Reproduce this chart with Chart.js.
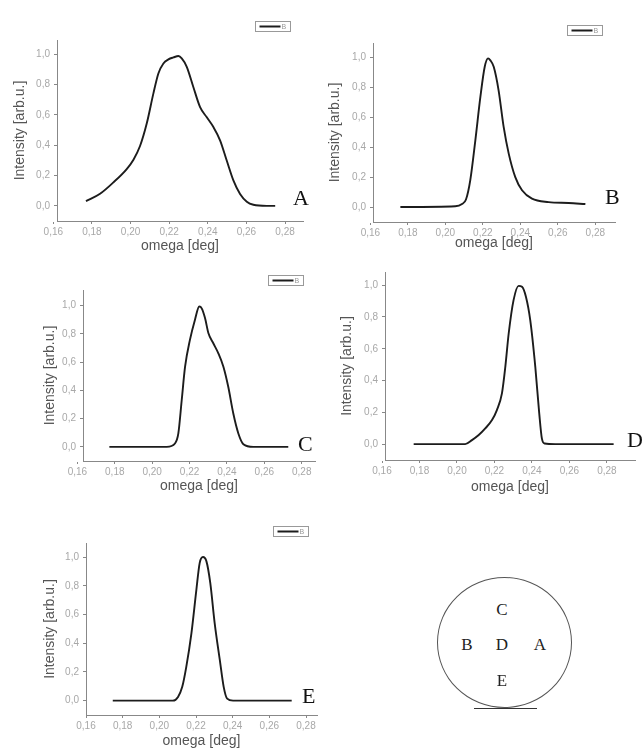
<!DOCTYPE html>
<html>
<head>
<meta charset="utf-8">
<script src="https://cdn.jsdelivr.net/npm/chart.js@4.4.1/dist/chart.umd.min.js"></script>
<style>
  body { margin: 0; background: #fff; overflow: hidden; }
  #fig { position: relative; width: 644px; height: 748px; }
  .panel { position: absolute; }
  .tag { position: absolute; font-family: "Liberation Serif", "DejaVu Serif", serif; font-size: 22px; line-height: 22px; color: #111; }
  #wafer { position: absolute; left: 437px; top: 577px; width: 133px; height: 129px; border: 1px solid #555; border-radius: 50%; }
  .spot { position: absolute; font-family: "Liberation Serif", "DejaVu Serif", serif; font-size: 17px; line-height: 17px; color: #222; transform: translate(-50%, -50%); }
  #flat { position: absolute; left: 474px; top: 708px; width: 63px; border-top: 1.5px solid #333; }
</style>
</head>
<body>
<div id="fig"></div>
<script>
// rocking curves, normalised intensity vs omega
const omegaA = [0.1769, 0.1842, 0.1911, 0.1980, 0.2015, 0.2049, 0.2084, 0.2118, 0.2144, 0.2170, 0.2196, 0.2222, 0.2248, 0.2265, 0.2291, 0.2325, 0.2360, 0.2394, 0.2429, 0.2464, 0.2498, 0.2533, 0.2567, 0.2602, 0.2636, 0.2705, 0.2749];
const intA   = [0.031, 0.080, 0.155, 0.243, 0.305, 0.395, 0.545, 0.741, 0.874, 0.940, 0.967, 0.980, 0.989, 0.973, 0.918, 0.785, 0.652, 0.586, 0.520, 0.431, 0.299, 0.166, 0.078, 0.027, 0.007, 0, 0];

const omegaB = [0.1760, 0.2053, 0.2089, 0.2110, 0.2133, 0.2160, 0.2187, 0.2210, 0.2228, 0.2240, 0.2258, 0.2284, 0.2311, 0.2338, 0.2373, 0.2409, 0.2462, 0.2551, 0.2658, 0.2747];
const intB   = [0, 0.005, 0.020, 0.050, 0.180, 0.446, 0.737, 0.937, 0.993, 0.980, 0.937, 0.780, 0.535, 0.357, 0.200, 0.112, 0.056, 0.033, 0.027, 0.020];

const omegaC = [0.1771, 0.2078, 0.2122, 0.2140, 0.2158, 0.2176, 0.2202, 0.2229, 0.2252, 0.2265, 0.2283, 0.2301, 0.2327, 0.2354, 0.2381, 0.2407, 0.2434, 0.2461, 0.2488, 0.2541, 0.2728];
const intC   = [0, 0, 0.024, 0.095, 0.330, 0.567, 0.757, 0.900, 0.993, 0.980, 0.910, 0.804, 0.733, 0.662, 0.567, 0.425, 0.236, 0.095, 0.019, 0, 0];

const omegaD = [0.1769, 0.2044, 0.2080, 0.2116, 0.2151, 0.2187, 0.2213, 0.2240, 0.2258, 0.2276, 0.2302, 0.2329, 0.2347, 0.2368, 0.2391, 0.2418, 0.2439, 0.2453, 0.2468, 0.2524, 0.2836];
const intD   = [0, 0, 0.025, 0.057, 0.099, 0.151, 0.214, 0.319, 0.486, 0.696, 0.906, 0.996, 0.990, 0.927, 0.780, 0.486, 0.193, 0.036, 0.004, 0, 0];

const omegaE = [0.1746, 0.2074, 0.2102, 0.2125, 0.2147, 0.2175, 0.2202, 0.2220, 0.2238, 0.2257, 0.2278, 0.2302, 0.2330, 0.2351, 0.2370, 0.2402, 0.2722];
const intE   = [0, 0, 0.026, 0.096, 0.235, 0.469, 0.772, 0.958, 1.000, 0.970, 0.818, 0.538, 0.282, 0.096, 0.014, 0, 0];

const omegaTicks = [0.16, 0.18, 0.20, 0.22, 0.24, 0.26, 0.28];
const intensityTicks = [0, 0.2, 0.4, 0.6, 0.8, 1.0];
const seriesName = 'B';

// plot boxes on the page (px) and axis ranges
const panels = [
  { tag: 'A', omega: omegaA, intensity: intA, plot: [57, 40, 303, 221], yTitleX: 20, xTitleY: 247, xRange: [0.1619, 0.2893], yRange: [-0.1, 1.095], legend: [13, 19], tagAt: [293, 205] },
  { tag: 'B', omega: omegaB, intensity: intB, plot: [373, 43, 615, 222], yTitleX: 335, xTitleY: 244, xRange: [0.1614, 0.2905], yRange: [-0.1, 1.096], legend: [13, 18], tagAt: [605, 204] },
  { tag: 'C', omega: omegaC, intensity: intC, plot: [83, 290, 315, 461], yTitleX: 50, xTitleY: 487, xRange: [0.1630, 0.2871], yRange: [-0.1, 1.11], legend: [12, 15], tagAt: [298, 451] },
  { tag: 'D', omega: omegaD, intensity: intD, plot: [385, 272, 635, 460], yTitleX: 347, xTitleY: 488, xRange: [0.1616, 0.2950], yRange: [-0.1, 1.083], legend: null, tagAt: [627, 447] },
  { tag: 'E', omega: omegaE, intensity: intE, plot: [86, 543, 317, 715], yTitleX: 50, xTitleY: 742, xRange: [0.1600, 0.2860], yRange: [-0.1, 1.098], legend: [9, 17], tagAt: [302, 703] }
];

Chart.defaults.font.family = '"Liberation Sans", Arial, sans-serif';

// small framed legend sitting just above the plot's top right corner
const legendBox = {
  id: 'legendBox',
  afterDraw(chart, args, opts) {
    if (!opts.offset) return;
    const { ctx, chartArea } = chart;
    const ds = chart.data.datasets[0];
    const w = 35, h = 10;
    const x = Math.round(chartArea.right - opts.offset[0] - w) + 0.5;
    const y = Math.round(chartArea.top - opts.offset[1]) + 0.5;
    ctx.save();
    ctx.strokeStyle = '#999';
    ctx.lineWidth = 1;
    ctx.strokeRect(x, y, w, h);
    ctx.strokeStyle = ds.borderColor;
    ctx.lineWidth = 2;
    ctx.beginPath();
    ctx.moveTo(x + 4, y + h / 2);
    ctx.lineTo(x + 25, y + h / 2);
    ctx.stroke();
    ctx.fillStyle = '#999';
    ctx.font = '7px "Liberation Sans"';
    ctx.textBaseline = 'middle';
    ctx.fillText(ds.label, x + 26, y + h / 2 + 0.5);
    ctx.restore();
  }
};

const fig = document.getElementById('fig');

panels.forEach(p => {
  const [L, T, R, B] = p.plot;
  const boxLeft = p.yTitleX - 8, boxTop = T - 30, boxRight = R + 3, boxBottom = p.xTitleY + 8;

  const wrap = document.createElement('div');
  wrap.className = 'panel';
  wrap.style.left = boxLeft + 'px';
  wrap.style.top = boxTop + 'px';
  wrap.style.width = (boxRight - boxLeft) + 'px';
  wrap.style.height = (boxBottom - boxTop) + 'px';
  const canvas = document.createElement('canvas');
  wrap.appendChild(canvas);
  fig.appendChild(wrap);

  const tag = document.createElement('div');
  tag.className = 'tag';
  tag.textContent = p.tag;
  tag.style.left = p.tagAt[0] + 'px';
  tag.style.top = (p.tagAt[1] - 18) + 'px';
  fig.appendChild(tag);

  new Chart(canvas, {
    type: 'line',
    data: {
      datasets: [{
        label: seriesName,
        data: p.omega.map((x, i) => ({ x, y: p.intensity[i] })),
        borderColor: '#1c1c1c',
        borderWidth: 1.9,
        pointRadius: 0,
        cubicInterpolationMode: 'monotone',
        fill: false
      }]
    },
    options: {
      responsive: true,
      maintainAspectRatio: false,
      animation: false,
      layout: { padding: { top: 30, right: 3, left: 0, bottom: 0 } },
      plugins: {
        legend: { display: false },
        tooltip: { enabled: false },
        legendBox: { offset: p.legend }
      },
      scales: {
        x: {
          type: 'linear',
          min: p.xRange[0],
          max: p.xRange[1],
          afterBuildTicks: s => { s.ticks = omegaTicks.map(v => ({ value: v })); },
          afterFit: s => { s.height = boxBottom - B; },
          grid: { display: true, drawOnChartArea: false, drawTicks: true, tickLength: 3, color: '#888' },
          border: { display: true, color: '#888', width: 1 },
          ticks: {
            autoSkip: false, maxRotation: 0, padding: 2, color: '#a8a8a8', font: { size: 10 },
            callback: v => v.toFixed(2).replace('.', ',')
          },
          title: { display: true, text: 'omega [deg]', color: '#555', font: { size: 14 }, padding: 0 }
        },
        y: {
          min: p.yRange[0],
          max: p.yRange[1],
          afterBuildTicks: s => { s.ticks = intensityTicks.map(v => ({ value: v })); },
          afterFit: s => { s.width = L - boxLeft; },
          grid: { display: true, drawOnChartArea: false, drawTicks: true, tickLength: 3, color: '#888' },
          border: { display: true, color: '#888', width: 1 },
          ticks: {
            autoSkip: false, padding: 4, color: '#a8a8a8', font: { size: 10 },
            callback: v => v.toFixed(1).replace('.', ',')
          },
          title: { display: true, text: 'Intensity [arb.u.]', color: '#555', font: { size: 14 }, padding: 0 }
        }
      }
    },
    plugins: [legendBox]
  });
});

// measurement spots on the wafer
const wafer = document.createElement('div');
wafer.id = 'wafer';
fig.appendChild(wafer);
const flat = document.createElement('div');
flat.id = 'flat';
fig.appendChild(flat);
[['C', 502, 609], ['B', 467, 644], ['D', 502, 644], ['A', 540, 644], ['E', 502, 680]].forEach(([t, x, y]) => {
  const s = document.createElement('div');
  s.className = 'spot';
  s.textContent = t;
  s.style.left = x + 'px';
  s.style.top = y + 'px';
  fig.appendChild(s);
});
</script>
</body>
</html>
